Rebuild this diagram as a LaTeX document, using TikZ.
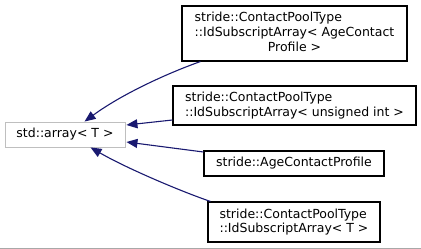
\documentclass[tikz,border=0pt]{standalone}
\usepackage{fontspec}
\setmainfont{DejaVu Sans}
\usetikzlibrary{arrows.meta,calc}
\definecolor{flecha}{HTML}{191970}
\definecolor{bordeGris}{HTML}{BFBFBF}
\definecolor{lineaPie}{HTML}{A8A8A8}

\begin{document}
\begin{tikzpicture}[x=1pt,y=-1pt,
    clase/.style={draw=black,line width=1.1pt,fill=white,inner sep=0pt,align=left,
      font=\fontsize{12.5}{14.6}\selectfont},
    base/.style={clase,draw=bordeGris,line width=0.9pt},
    hereda/.style={flecha,line width=1.1pt,-{Triangle[length=11pt,width=9pt]}}]
    \useasboundingbox (0,0) rectangle (421,249);
    \draw[lineaPie,line width=1pt] (0,248.3) -- (421,248.3);
    \node[base,minimum width=120,minimum height=25] (arr) at (65,134.5) {std::array< T >};
    \node[clase,minimum width=225,minimum height=55] (poolPerfil) at (294.5,33.5)
      {\begin{tabular}{@{}l@{}}stride::ContactPoolType\\::IdSubscriptArray< AgeContact\\\multicolumn{1}{@{}c@{}}{Profile >}\end{tabular}};
    \node[clase,minimum width=243,minimum height=39] (poolUint) at (294.5,105.5)
      {stride::ContactPoolType\\::IdSubscriptArray< unsigned int >};
    \node[clase,minimum width=180,minimum height=25] (perfil) at (294,163.5) {stride::AgeContactProfile};
    \node[clase,minimum width=172,minimum height=40] (poolT) at (294,222)
      {stride::ContactPoolType\\::IdSubscriptArray< T >};
    \draw[hereda] ($(poolPerfil.south west)+(19,0)$) .. controls (168,73) and (122,94) .. ($(arr.north west)+(80,0)$);
    \draw[hereda] ($(poolUint.west)+(0,14.5)$) -- ($(arr.east)+(1,-9.5)$);
    \draw[hereda] ($(perfil.west)+(0,-11.5)$) -- ($(arr.east)+(1,7.5)$);
    \draw[hereda] ($(poolT.north west)+(3,0)$) .. controls (180,191) and (126,168) .. ($(arr.south west)+(86,0)$);
  \end{tikzpicture}
\end{document}
